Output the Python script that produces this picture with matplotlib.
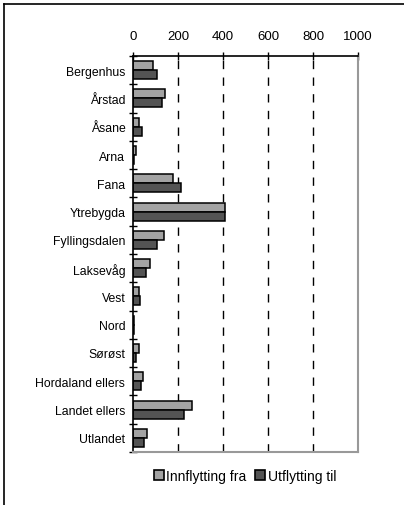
import matplotlib
matplotlib.use("Agg")
import matplotlib.pyplot as plt
import numpy as np
from matplotlib.lines import Line2D

categories = ["Bergenhus", "Årstad", "Åsane", "Arna", "Fana", "Ytrebygda",
              "Fyllingsdalen", "Laksevåg", "Vest", "Nord", "Sørøst",
              "Hordaland ellers", "Landet ellers", "Utlandet"]
innflytting = [88, 141, 28, 15, 176, 409, 139, 77, 27, 5, 25, 43, 262, 64]
utflytting = [108, 127, 39, 6, 212, 409, 105, 59, 30, 4, 15, 36, 227, 49]
xticks = [0, 200, 400, 600, 800, 1000]
series_names = ["Innflytting fra", "Utflytting til"]

plt.rcParams['font.family'] = ['Liberation Sans', 'DejaVu Sans']

fig = plt.figure(figsize=(4.04, 5.06), dpi=100)
W, H = 404, 506
ax = fig.add_axes([133 / W, 1 - 453 / H, (358 - 133) / W, (453 - 57) / H])

n = len(categories)
y = np.arange(n)
bh = 0.32
ax.barh(y - bh / 2, innflytting, height=bh, color="#a3a3a3", edgecolor="black",
        linewidth=1.1, label=series_names[0])
ax.barh(y + bh / 2, utflytting, height=bh, color="#545454", edgecolor="black",
        linewidth=1.1, label=series_names[1])

ax.set_xlim(0, 1000)
ax.set_ylim(n - 0.5, -0.5)
ax.xaxis.tick_top()
ax.set_xticks(xticks)
ax.set_xticklabels([str(v) for v in xticks], fontsize=9.5)
ax.tick_params(axis='x', direction='inout', length=6, width=1, pad=7, top=True, bottom=False)

ax.set_yticks(y)
ax.set_yticklabels(categories, fontsize=8.8)
ax.set_yticks(np.arange(n + 1) - 0.5, minor=True)
ax.tick_params(axis='y', which='major', length=0, pad=5.5)
ax.tick_params(axis='y', which='minor', direction='inout', length=6, width=1)

for v in xticks[1:-1]:
    ax.axvline(v, color="black", linestyle=(0, (6, 6)), linewidth=1, zorder=0)

for s in ['right', 'bottom']:
    ax.spines[s].set_color("#999999")
    ax.spines[s].set_linewidth(1.5)
for s in ['left', 'top']:
    ax.spines[s].set_color("black")
    ax.spines[s].set_linewidth(1.2)

handles = [plt.Rectangle((0, 0), 1, 1, facecolor="#a3a3a3", edgecolor="black", linewidth=1.2),
           plt.Rectangle((0, 0), 1, 1, facecolor="#545454", edgecolor="black", linewidth=1.2)]
fig.legend(handles, series_names, loc='center', bbox_to_anchor=(245 / W, 1 - 477 / H),
           ncol=2, frameon=False, fontsize=10, handlelength=0.7, handleheight=0.7,
           handletextpad=0.2, columnspacing=0.6)

fig.add_artist(Line2D([4 / W, 4 / W], [0, 1 - 5 / H], color="black", linewidth=1.2))
fig.add_artist(Line2D([4 / W, 1], [1 - 5 / H, 1 - 5 / H], color="black", linewidth=1.2))

fig.savefig("out.png", dpi=100)
